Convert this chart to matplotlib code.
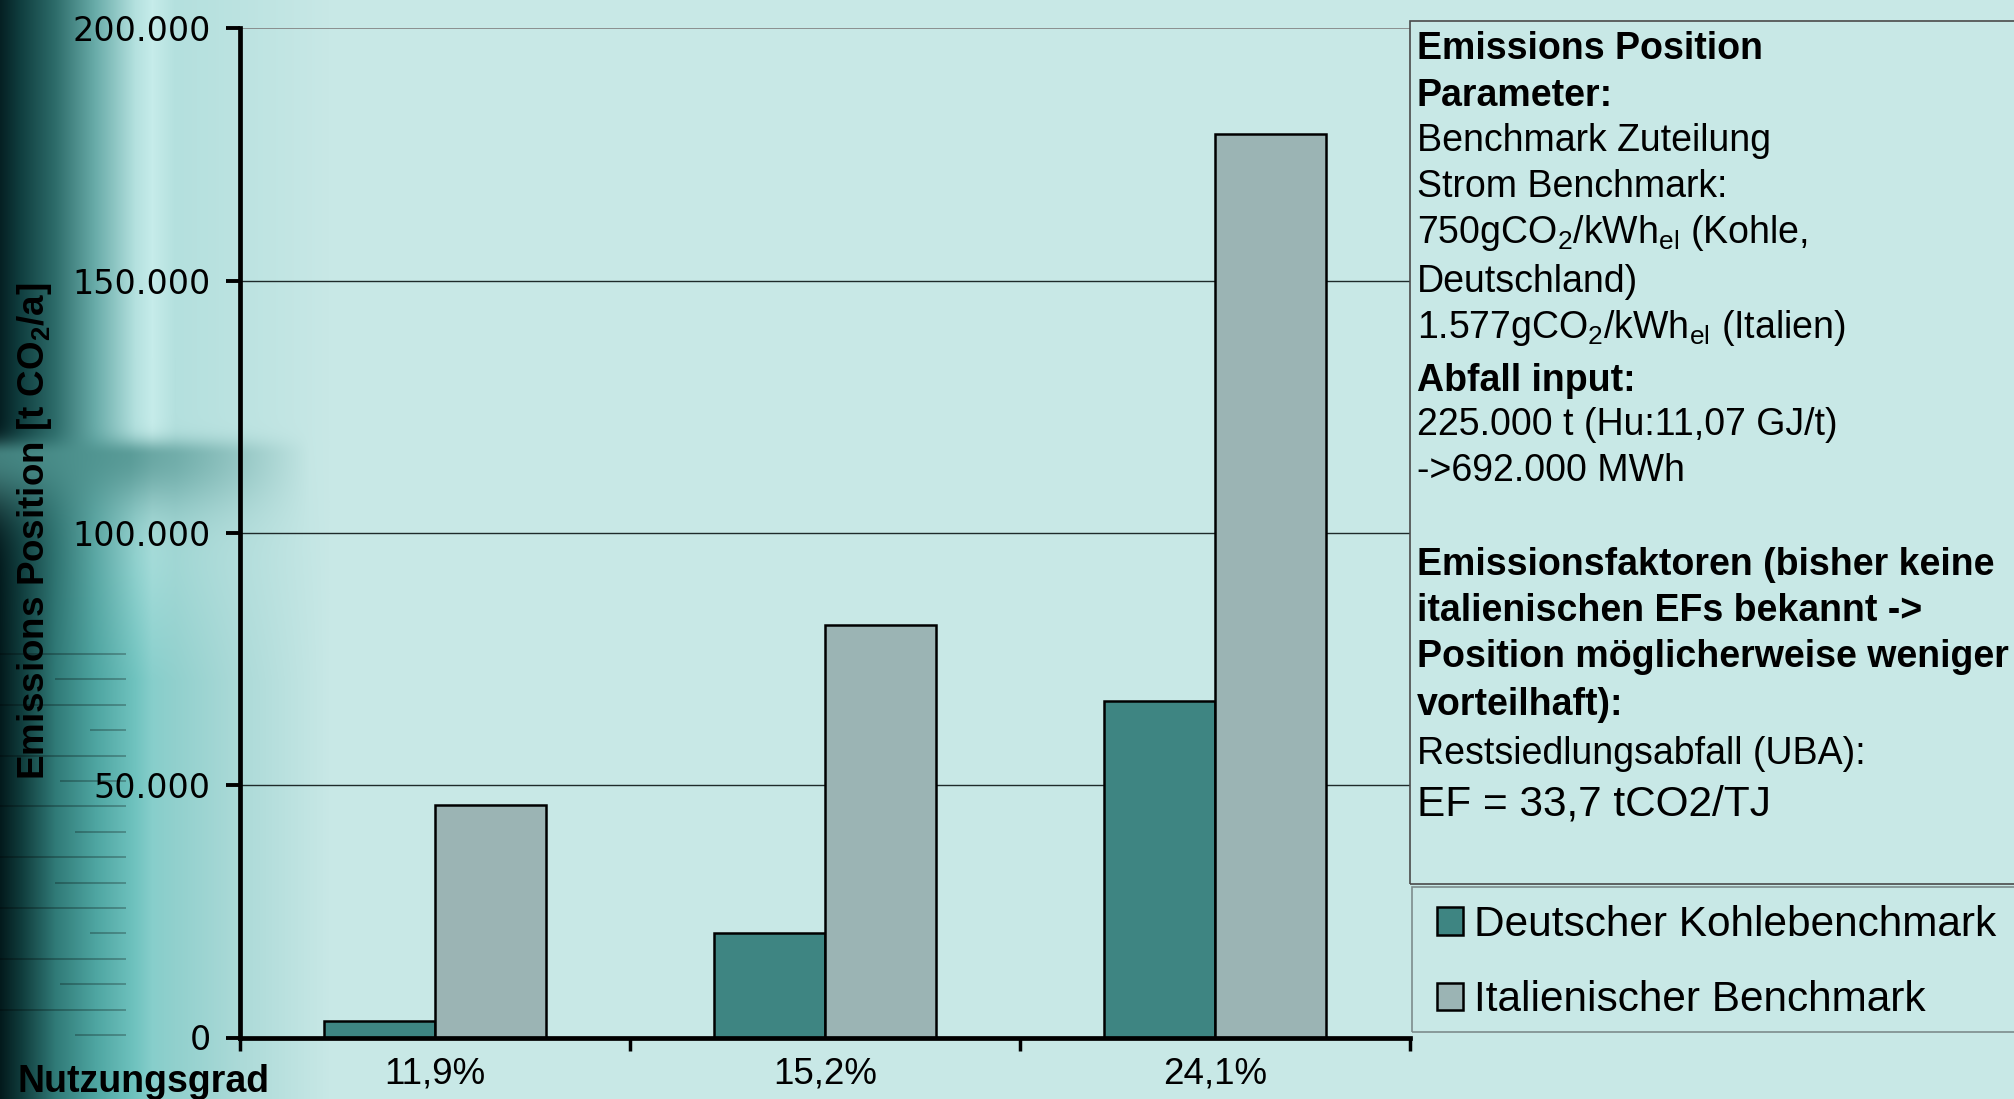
import numpy as np
import matplotlib
matplotlib.use("Agg")
import matplotlib.pyplot as plt
from matplotlib.patches import Rectangle

# Werte (t CO2/a) je Nutzungsgrad
nutzungsgrad = ["11,9%", "15,2%", "24,1%"]
deutscher_benchmark = [3300, 20700, 66700]
italienischer_benchmark = [46000, 81800, 179000]
serien = ["Deutscher Kohlebenchmark", "Italienischer Benchmark"]
y_ticks = [0, 50000, 100000, 150000, 200000]
y_tick_labels = ["0", "50.000", "100.000", "150.000", "200.000"]

plt.rcParams['font.family'] = ['Liberation Sans', 'DejaVu Sans']
plt.rcParams['mathtext.fontset'] = 'custom'
plt.rcParams['mathtext.rm'] = 'Liberation Sans'
plt.rcParams['mathtext.bf'] = 'Liberation Sans:bold'

W, H = 2015, 1099
BG = np.array([200, 232, 230]) / 255


def hintergrund():
    img = np.ones((H, W, 3)) * BG
    xs = np.arange(0, 330)
    px = [0, 20, 55, 95, 135, 152, 175, 240, 329]
    oben = np.array([[5, 32, 35], [16, 62, 63], [45, 108, 106], [105, 172, 169],
                     [180, 225, 223], [198, 236, 234], [180, 224, 222],
                     [188, 227, 225], [200, 232, 230]]) / 255
    unten = np.array([[3, 26, 28], [15, 58, 58], [48, 122, 119], [78, 165, 161],
                      [112, 195, 191], [135, 206, 203], [145, 208, 205],
                      [172, 218, 216], [200, 232, 230]]) / 255
    prof_o = np.stack([np.interp(xs, px, oben[:, k]) for k in range(3)], axis=1)
    prof_u = np.stack([np.interp(xs, px, unten[:, k]) for k in range(3)], axis=1)
    y = np.arange(H)[:, None, None]
    t = np.clip((y - 430) / 250, 0, 1)
    streifen = prof_o[None] * (1 - t) + prof_u[None] * t
    # dunkles Band in der Mitte, oben scharf, nach unten weich
    d = (y - 455) / np.where(y < 455, 16.0, 55.0)
    band = np.exp(-d ** 2)
    xw = np.clip((310 - xs) / 180, 0, 1)[None, :, None]
    band_col = np.array([78, 146, 142]) / 255
    a = 0.85 * band * xw
    streifen = streifen * (1 - a) + band_col * a
    img[:, :330] = streifen
    # feine horizontale Linien unten links
    for k, y0 in enumerate(np.arange(653, 1045, 25.4)):
        x0 = [0, 55, 0, 90, 0, 60, 0, 75][k % 8]
        yy = int(round(y0))
        img[yy:yy + 2, x0:126] *= 0.75
    return img


fig = plt.figure(figsize=(W / 100, H / 100), dpi=100)
fig.patch.set_facecolor(BG)

bg_ax = fig.add_axes([0, 0, 1, 1], zorder=-10)
bg_ax.imshow(hintergrund(), aspect='auto', interpolation='bilinear')
bg_ax.axis('off')

ax = fig.add_axes([240 / W, (H - 1037.5) / H, (1410 - 240) / W, (1037.5 - 28.3) / H])
ax.patch.set_visible(False)

x = np.arange(len(nutzungsgrad))
w = 1 / 3.5
b1 = ax.bar(x - w / 2, deutscher_benchmark, w, color='#3e8582', edgecolor='black',
            linewidth=1.8, zorder=3)
b2 = ax.bar(x + w / 2, italienischer_benchmark, w, color='#9bb4b4', edgecolor='black',
            linewidth=1.8, zorder=3)

ax.set_xlim(-0.5, len(nutzungsgrad) - 0.5)
ax.set_ylim(0, 200000)

# Gitterlinien
ax.hlines(y_ticks[1:-1], -0.5, len(nutzungsgrad) - 0.5, colors='#1e2a2a', lw=1.0, zorder=1)
ax.hlines(y_ticks[-1], -0.5, len(nutzungsgrad) - 0.5, colors='#808080', lw=1.2, zorder=1)

for s in ['top', 'right']:
    ax.spines[s].set_visible(False)
for s in ['left', 'bottom']:
    ax.spines[s].set_linewidth(3.4)
    ax.spines[s].set_zorder(4)

ax.set_yticks(y_ticks)
ax.set_yticklabels(y_tick_labels, family='DejaVu Sans', fontsize=24)
ax.tick_params(axis='y', direction='out', length=10, width=2.8, pad=11)

ax.set_xticks(np.arange(-0.5, len(nutzungsgrad)))
ax.set_xticklabels([])
ax.tick_params(axis='x', which='major', direction='out', length=9, width=2.5)
ax.set_xticks(x, minor=True)
ax.set_xticklabels(nutzungsgrad, minor=True, fontsize=26.5)
ax.tick_params(axis='x', which='minor', length=0, pad=14)

fig.text(35 / W, 1 - 531 / H, "Emissions Position [t CO$_\\mathbf{2}$/a]",
         rotation=90, fontsize=26.5, fontweight='bold', ha='center', va='center')
fig.text(18 / W, 1 - 1092 / H, "Nutzungsgrad", fontsize=27, fontweight='bold',
         ha='left', va='baseline')

# Textfeld mit Parametern
fig.add_artist(Rectangle((1410 / W, 1 - 884 / H), 700 / W, (884 - 21) / H,
                         transform=fig.transFigure, fill=False, ec='#4a4a4a',
                         lw=1.2, clip_on=False))
zeilen = [
    ("Emissions Position", 'bold', 27, 46),
    ("Parameter:", 'bold', 27, 92.5),
    ("Benchmark Zuteilung", 'normal', 27, 137.5),
    ("Strom Benchmark:", 'normal', 27, 184),
    ("750gCO$_\\mathregular{2}$/kWh$_\\mathregular{el}$ (Kohle,", 'normal', 27, 230),
    ("Deutschland)", 'normal', 27, 279),
    ("1.577gCO$_\\mathregular{2}$/kWh$_\\mathregular{el}$ (Italien)", 'normal', 27, 325),
    ("Abfall input:", 'bold', 27, 378),
    ("225.000 t (Hu:11,07 GJ/t)", 'normal', 27, 421.5),
    ("->692.000 MWh", 'normal', 27, 468),
    ("Emissionsfaktoren (bisher keine", 'bold', 27, 561.5),
    ("italienischen EFs bekannt ->", 'bold', 27, 608),
    ("Position möglicherweise weniger", 'bold', 27, 654),
    ("vorteilhaft):", 'bold', 27, 702),
    ("Restsiedlungsabfall (UBA):", 'normal', 27, 750.5),
    ("EF = 33,7 tCO2/TJ", 'normal', 30.5, 800.6),
]
for txt, gew, gr, yc in zeilen:
    base = yc + 0.716 * gr / 0.72 / 2
    fig.text(1417 / W, 1 - base / H, txt, fontsize=gr, fontweight=gew,
             ha='left', va='baseline')

# Legende
fig.add_artist(Rectangle((1412 / W, 1 - 1032 / H), 700 / W, (1032 - 887) / H,
                         transform=fig.transFigure, fill=False, ec='#7d8c8c',
                         lw=1.2, clip_on=False))
fig.legend([b1, b2], serien, loc='upper left', bbox_to_anchor=(1437 / W, 1 - 905 / H),
           frameon=False, fontsize=30.5, handlelength=0.62, handleheight=0.62,
           handletextpad=0.25, labelspacing=0.83, borderpad=0, borderaxespad=0)

fig.savefig("out.png", dpi=100, facecolor=fig.get_facecolor())
